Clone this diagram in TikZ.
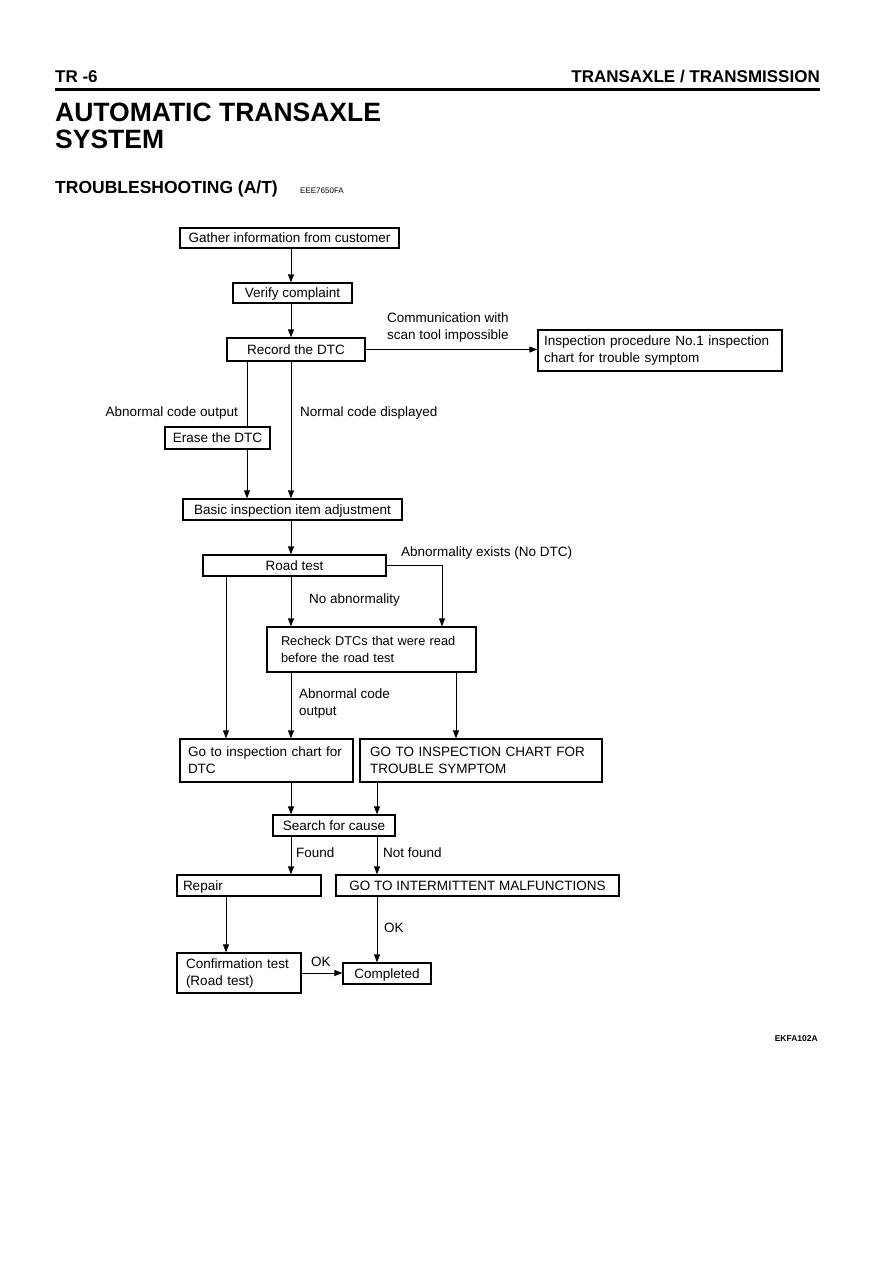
\documentclass[tikz,border=0pt]{standalone}
\usepackage{fontspec}
\setmainfont{Liberation Sans}
\usetikzlibrary{arrows.meta,positioning}

\newcommand{\fs}{\fontsize{13.5}{17}\selectfont}

\begin{document}
\begin{tikzpicture}[x=1pt,y=-1pt,
    box/.style={draw,line width=1.2pt,inner sep=0pt,font=\fs,minimum height=21pt,text height=9.7pt,text depth=0pt},
    tallbox/.style={draw,line width=1.2pt,inner ysep=0pt,font=\fs,align=left},
    lbl/.style={inner sep=0pt,font=\fs,anchor=base west},
    arr/.style={line width=0.9pt,-{Triangle[length=8pt,width=6pt]}},
    ln/.style={line width=0.9pt}]
    \useasboundingbox (0,0) rectangle (893,1263);

    % page header
    \node[lbl,font=\fontsize{17}{20}\selectfont\bfseries] (page) at (55,82) {TR -6};
    \node[lbl,anchor=base east,font=\fontsize{17}{20}\selectfont\bfseries] (chap) at (820,82) {TRANSAXLE / TRANSMISSION};
    \draw[line width=3pt] (55,89.5) -- (820,89.5);
    \node[lbl,align=left,font=\fontsize{26.5}{27}\selectfont\bfseries] (title) at (55,148) {AUTOMATIC TRANSAXLE\\SYSTEM};
    \node[lbl,font=\fontsize{17.5}{20}\selectfont\bfseries] (sect) at (55,193) {TROUBLESHOOTING (A/T)};
    \node[lbl,font=\fontsize{8}{9}\selectfont] (code) at (300,193) {EEE7650FA};
    \node[lbl,anchor=base east,font=\fontsize{8.5}{9}\selectfont\bfseries] (fig) at (818,1041) {EKFA102A};

    % columns of the connectors
    \coordinate (colL) at (226,0);
    \coordinate (colA) at (247,0);
    \coordinate (colM) at (291,0);
    \coordinate (colN) at (377,0);
    \coordinate (colR) at (442,0);
    \coordinate (colS) at (456,0);

    % boxes
    \node[box,minimum width=219pt,minimum height=20pt] (gather) at (289.5,238) {Gather information from customer};
    \node[box,minimum width=119pt,minimum height=20pt] (verify) at (292.5,293) {Verify complaint};
    \node[box,minimum width=138pt,minimum height=23pt] (record) at (296,349.5) {Record the DTC};
    \node[tallbox,text width=232pt,inner xsep=6pt,minimum height=41pt] (insp) at (660,350.5) {Inspection procedure No.1 inspection\\chart for trouble symptom};
    \node[box,minimum width=105pt,minimum height=22pt] (erase) at (217.5,438) {Erase the DTC};
    \node[box,minimum width=219pt] (basic) at (292.5,509.5) {Basic inspection item adjustment};
    \node[box,minimum width=183pt] (road) at (294.5,565.5) {Road test};
    \node[tallbox,font=\fontsize{12.8}{17}\selectfont,text width=181pt,inner xsep=14pt,minimum height=45pt] (recheck) at (371.5,649.5) {Recheck DTCs that were read\\before the road test};
    \node[tallbox,text width=157pt,inner xsep=8pt,minimum height=43pt] (dtc) at (266.5,760.5) {Go to inspection chart for\\DTC};
    \node[tallbox,text width=222pt,inner xsep=10pt,minimum height=43pt] (trouble) at (481,760.5) {GO TO INSPECTION CHART FOR\\TROUBLE SYMPTOM};
    \node[box,minimum width=122pt] (search) at (334,825.5) {Search for cause};
    \node[box,minimum width=144pt,text width=132pt,inner xsep=6pt,align=left] (repair) at (249,885.5) {Repair};
    \node[box,minimum width=283pt] (goto) at (477.5,885.5) {GO TO INTERMITTENT MALFUNCTIONS};
    \node[tallbox,text width=106pt,inner xsep=9pt,minimum height=40pt] (confirm) at (239,973) {Confirmation test\\(Road test)};
    \node[box,minimum width=88pt] (done) at (387,973.5) {Completed};

    % labels
    \node[lbl,anchor=north west,align=left] (nocomm) at (387,313) {Communication with\\scan tool impossible};
    \node[lbl,anchor=base east] (abn1) at (238,416) {Abnormal code output};
    \node[lbl] (norm) at (300,416) {Normal code displayed};
    \node[lbl] (exists) at (401,556) {Abnormality exists (No DTC)};
    \node[lbl] (noabn) at (309,603) {No abnormality};
    \node[lbl,anchor=north west,align=left] (abn2) at (299,689) {Abnormal code\\output};
    \node[lbl] (found) at (296,857) {Found};
    \node[lbl] (notfound) at (383,857) {Not found};
    \node[lbl] (ok1) at (384,932) {OK};
    \node[lbl] (ok2) at (311,966) {OK};

    % connectors
    \draw[arr] (gather.south -| colM) -- (verify.north -| colM);
    \draw[arr] (verify.south -| colM) -- (record.north -| colM);
    \draw[arr] (record.east) -- (record.east -| insp.west);
    \draw[ln] (record.south -| colA) -- (erase.north -| colA);
    \draw[arr] (erase.south -| colA) -- (basic.north -| colA);
    \draw[arr] (record.south -| colM) -- (basic.north -| colM);
    \draw[arr] (basic.south -| colM) -- (road.north -| colM);
    \draw[arr] (road.east) -| (recheck.north -| colR);
    \draw[arr] (road.south -| colM) -- (recheck.north -| colM);
    \draw[arr] (road.south -| colL) -- (dtc.north -| colL);
    \draw[arr] (recheck.south -| colM) -- (dtc.north -| colM);
    \draw[arr] (recheck.south -| colS) -- (trouble.north -| colS);
    \draw[arr] (dtc.south -| colM) -- (search.north -| colM);
    \draw[arr] (trouble.south -| colN) -- (search.north -| colN);
    \draw[arr] (search.south -| colM) -- (repair.north -| colM);
    \draw[arr] (search.south -| colN) -- (goto.north -| colN);
    \draw[arr] (repair.south -| colL) -- (confirm.north -| colL);
    \draw[arr] (goto.south -| colN) -- (done.north -| colN);
    \draw[arr] (confirm.east) -- (confirm.east -| done.west);
\end{tikzpicture}
\end{document}
